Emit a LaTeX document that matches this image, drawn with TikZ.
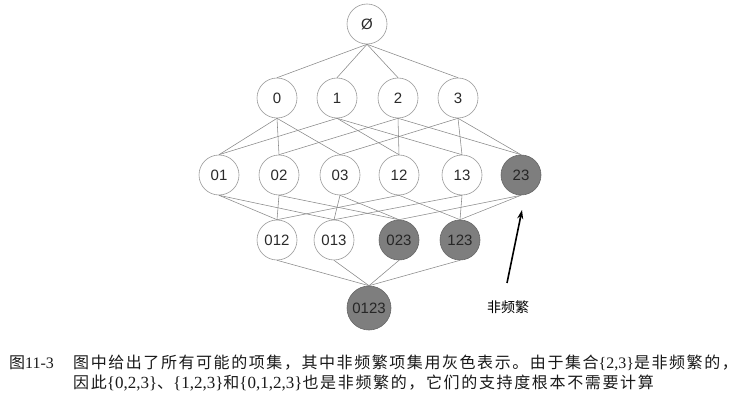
\documentclass[tikz,border=0pt]{standalone}
\usepackage{fontspec}
\setmainfont{Liberation Serif}
\newfontfamily\nodefont{Liberation Sans}
\newfontfamily\cjkwide[LetterSpace=9.8]{Noto Sans CJK SC}
\newfontfamily\cjkmid[LetterSpace=10.3]{Noto Sans CJK SC}
\newfontfamily\cjk{Noto Sans CJK SC}
\newfontfamily\tm{Liberation Serif}
\newcommand{\tmbig}{\tm\fontsize{17}{18}\selectfont}
\usetikzlibrary{arrows.meta}
\definecolor{edgegray}{HTML}{888888}
\definecolor{ringgray}{HTML}{9A9A9A}
\definecolor{fillgray}{HTML}{7E7E7E}
\definecolor{darkring}{HTML}{666666}
\definecolor{txt}{HTML}{2A2A2A}
\tikzset{
  setnode/.style={circle, draw=ringgray, line width=0.6pt, fill=white, minimum size=40pt, inner sep=0pt, font=\nodefont\fontsize{15}{17}\selectfont, text=txt},
  infreq/.style={setnode, fill=fillgray, draw=darkring, text=black!85},
  edge/.style={draw=edgegray, line width=0.55pt},
  pointer/.style={draw=black, line width=1.6pt, -{Stealth[length=9pt,width=6pt]}},
  caption/.style={anchor=west, inner sep=0pt, font=\fontsize{16}{18}\selectfont, text=black!90}
}
\begin{document}
\begin{tikzpicture}[x=1pt,y=-1pt]
\useasboundingbox (0,0) rectangle (738,406);
% level 0
\node[setnode] (e) at (367,24) {Ø};
% level 1
\node[setnode] (s0) at (277,98) {0};
\node[setnode] (s1) at (337,98) {1};
\node[setnode] (s2) at (398,98) {2};
\node[setnode] (s3) at (458,98) {3};
% level 2
\node[setnode] (s01) at (219,175) {01};
\node[setnode] (s02) at (279,175) {02};
\node[setnode] (s03) at (340,175) {03};
\node[setnode] (s12) at (399,175) {12};
\node[setnode] (s13) at (462,175) {13};
\node[infreq]  (s23) at (521,175) {23};
% level 3
\node[setnode] (s012) at (277,240) {012};
\node[setnode] (s013) at (334,240) {013};
\node[infreq]  (s023) at (399,240) {023};
\node[infreq]  (s123) at (460,240) {123};
% level 4
\node[infreq, minimum size=44pt] (s0123) at (369,308) {0123};

\foreach \a/\b in {e/s0,e/s1,e/s2,e/s3,
  s0/s01,s0/s02,s0/s03,s1/s01,s1/s12,s1/s13,s2/s02,s2/s12,s2/s23,s3/s03,s3/s13,s3/s23,
  s01/s012,s01/s013,s02/s012,s02/s023,s03/s013,s03/s023,s12/s012,s12/s123,s13/s013,s13/s123,s23/s023,s23/s123,
  s012/s0123,s013/s0123,s023/s0123,s123/s0123}
  \draw[edge] (\a.south) -- (\b.north);

% pointer
\node[font=\cjk\fontsize{14}{15}\selectfont, inner sep=0pt] (lbl) at (508,307) {非频繁};
\coordinate (atail) at (507,283);
\coordinate (ahead) at (522,210);
\draw[pointer] (atail) -- (ahead);

% caption
\node[caption] (c0) at (9,363) {\cjk 图\tm 11-3};
\node[caption] (c1) at (73,363) {\cjkwide 图中给出了所有可能的项集，其中非频繁项集用灰色表示。由于集合\tm\{2,3\}\cjkwide 是非频繁的，};
\node[caption] (c2) at (73,383) {\cjkmid 因此{\tmbig\{0,2,3\}}、{\tmbig\{1,2,3\}}和{\tmbig\{0,1,2,3\}}也是非频繁的，它们的支持度根本不需要计算};
\end{tikzpicture}
\end{document}
